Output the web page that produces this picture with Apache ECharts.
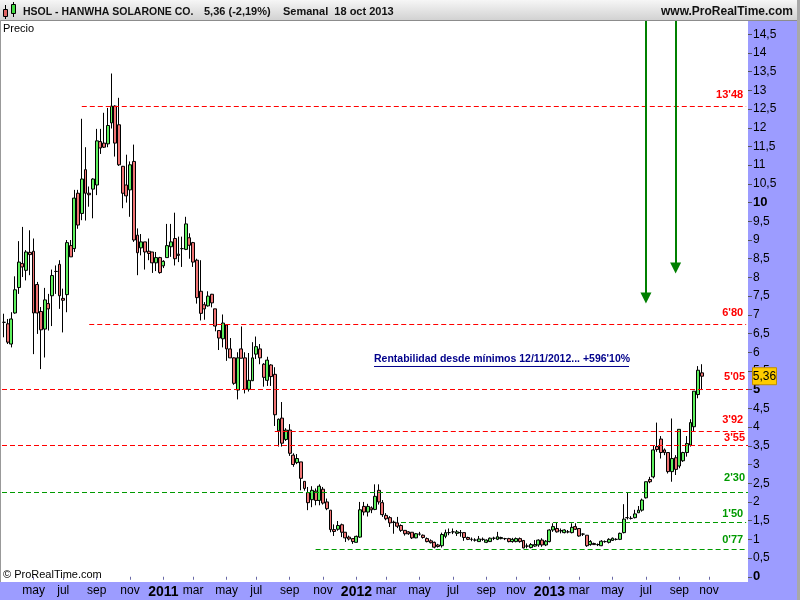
<!DOCTYPE html>
<html><head><meta charset="utf-8">
<script src="https://cdn.jsdelivr.net/npm/echarts@6/dist/echarts.min.js"></script>
<style>html,body{margin:0;padding:0;background:#fff}#c{width:800px;height:600px}</style>
</head><body><div id="c"></div>
<script>
// ---------- DATA ----------
const firstWeek = '2010-03-12';   // weekly candles (Friday dates)
const extraWeeks = 12;            // empty weeks to the right of the last candle
const opens = [6.80,6.76,6.22,7.05,7.73,8.37,8.19,8.67,8.70,7.81,7.09,6.62,7.30,7.51,8.16,8.35,7.44,7.54,8.85,8.77,
10.25,9.71,10.88,10.25,10.36,10.47,11.63,11.59,11.57,12.13,12.58,12.08,10.97,10.47,10.34,11.10,9.13,8.79,8.95,8.70,
8.68,8.39,8.53,8.31,8.53,8.82,9.04,8.62,8.77,8.75,9.06,8.93,8.46,7.63,7.27,7.24,7.55,7.16,6.58,6.36,
6.73,6.09,5.85,4.99,6.09,5.85,5.01,5.24,5.95,6.09,5.68,5.25,5.66,5.41,3.90,4.24,3.67,3.92,3.25,3.05,
3.07,2.55,2.25,2.06,2.29,2.04,2.34,2.00,1.78,1.26,1.27,1.39,1.19,1.06,1.02,0.92,1.06,1.88,1.73,1.84,
1.80,2.31,1.98,1.64,1.58,1.46,1.44,1.37,1.24,1.20,1.19,1.04,1.14,1.11,1.02,0.96,0.92,0.85,0.83,1.08,
1.18,1.20,1.16,1.18,1.18,1.05,1.00,0.98,0.94,1.00,0.92,0.94,1.03,1.00,1.02,1.02,1.02,0.94,0.94,1.02,
0.97,0.82,0.78,0.82,0.85,0.98,0.85,0.94,1.25,1.29,1.23,1.18,1.20,1.18,1.34,1.29,1.14,1.11,0.86,0.89,
0.86,0.83,0.94,0.92,0.97,1.00,1.00,1.18,1.58,1.56,1.58,1.71,1.78,2.11,2.60,2.67,3.48,3.68,3.39,3.32,
2.81,3.18,2.96,3.10,3.32,3.52,4.01,4.87,5.45];
const closes = [6.80,6.27,6.89,7.67,8.41,8.28,8.68,8.61,7.05,7.05,6.60,7.40,7.16,8.05,8.16,7.51,7.39,8.93,8.55,10.12,
9.40,10.63,10.25,10.21,10.63,11.65,11.46,11.48,12.06,12.58,11.59,11.01,10.25,10.18,11.01,9.00,8.66,8.95,8.68,8.64,
8.39,8.53,8.13,8.43,8.85,8.95,8.50,8.59,8.77,9.43,8.86,8.41,7.46,7.04,7.16,7.50,7.32,6.70,6.38,6.78,
6.09,5.85,5.17,5.85,5.84,5.01,5.25,5.85,6.15,5.85,5.33,5.79,5.35,4.33,4.21,3.57,3.92,3.30,3.00,3.16,
2.63,2.36,1.98,2.31,2.04,2.42,1.97,1.82,1.26,1.21,1.37,1.19,1.04,1.01,0.94,1.08,1.79,1.73,1.88,1.79,
2.15,2.00,1.66,1.55,1.44,1.45,1.35,1.24,1.15,1.15,1.04,1.15,1.14,1.05,0.94,0.91,0.79,0.81,1.13,1.18,
1.18,1.20,1.20,1.18,1.05,1.00,1.00,0.98,1.01,1.00,0.98,1.03,1.03,1.07,1.05,1.02,0.94,1.00,1.02,0.94,
0.77,0.82,0.86,0.86,0.98,0.85,0.95,1.25,1.34,1.20,1.23,1.25,1.20,1.32,1.27,1.09,1.14,0.83,0.94,0.86,
0.86,0.95,0.94,1.00,1.03,1.00,1.16,1.54,1.58,1.56,1.68,1.78,2.05,2.54,2.54,3.39,3.40,3.32,3.32,2.81,
3.16,2.87,3.94,3.32,3.56,4.12,4.96,5.52,5.36];
const lows = [6.40,6.22,6.13,7.03,7.56,8.01,7.92,8.06,5.95,6.49,5.55,5.86,6.58,6.70,7.56,7.16,6.53,7.07,8.55,8.68,
9.30,9.53,9.52,9.89,9.58,10.20,11.30,11.46,11.48,11.98,11.23,10.98,9.85,10.00,9.62,8.95,8.06,8.59,8.21,8.46,
8.12,8.17,8.10,8.25,8.53,8.55,8.32,8.41,8.28,8.73,8.50,8.28,7.30,6.85,6.87,7.22,7.20,6.56,6.06,6.13,
5.77,5.85,5.13,4.74,5.84,4.90,4.95,5.23,5.82,5.68,5.08,5.10,5.10,4.03,3.48,3.48,3.63,3.23,2.94,3.01,
2.31,2.30,1.78,1.86,1.91,1.91,1.93,1.78,1.19,1.09,1.23,1.06,0.93,0.97,0.88,0.92,1.04,1.64,1.61,1.70,
1.78,1.93,1.60,1.51,1.33,1.15,1.30,1.20,1.10,1.12,1.01,1.03,1.10,1.02,0.92,0.89,0.76,0.78,0.78,1.03,
1.11,1.14,1.09,1.07,0.96,0.98,0.95,0.94,0.94,0.96,0.90,0.93,0.98,0.98,1.00,0.98,0.92,0.91,0.92,0.91,
0.76,0.76,0.76,0.80,0.80,0.80,0.82,0.92,1.20,1.18,1.16,1.16,1.16,1.16,1.25,1.07,1.09,0.80,0.83,0.85,
0.82,0.82,0.91,0.89,0.96,0.97,0.98,1.16,1.53,1.53,1.56,1.71,1.74,2.09,2.50,2.63,3.34,3.16,3.25,2.76,
2.54,2.72,2.90,3.07,3.21,3.48,3.89,4.77,4.99];
const highs = [7.03,6.89,7.07,8.03,8.97,9.35,8.73,9.26,9.04,7.88,7.21,7.72,7.56,8.21,8.32,8.46,7.70,9.00,9.00,10.34,
10.34,12.24,11.48,10.43,10.65,11.97,11.97,12.40,12.53,13.45,12.60,12.80,10.98,11.28,11.10,11.55,9.31,9.16,8.95,9.04,
8.68,8.68,8.55,8.46,9.43,9.43,9.73,9.09,9.09,9.62,9.18,8.95,8.50,8.46,7.34,7.63,7.56,7.16,6.58,7.01,
6.73,6.38,5.86,6.00,6.69,6.00,5.98,6.27,6.42,6.22,5.71,5.88,5.68,5.60,4.23,4.67,3.97,4.08,3.30,3.28,
3.07,2.55,2.40,2.42,2.36,2.47,2.40,2.09,1.78,1.40,1.49,1.42,1.19,1.10,1.02,1.10,2.00,2.00,1.95,1.88,
2.47,2.47,2.05,1.70,1.62,1.50,1.60,1.40,1.24,1.22,1.19,1.17,1.20,1.13,1.05,1.00,0.94,0.88,1.18,1.26,
1.29,1.29,1.25,1.25,1.18,1.07,1.05,1.03,1.09,1.05,1.00,1.05,1.07,1.20,1.07,1.04,1.04,1.04,1.05,1.05,
0.98,0.89,0.90,0.98,1.00,1.03,0.98,1.27,1.43,1.44,1.29,1.27,1.25,1.43,1.43,1.29,1.16,1.11,0.98,0.91,
0.89,0.98,0.97,1.03,1.05,1.03,1.18,1.94,2.25,1.62,1.79,1.89,2.09,2.54,2.67,3.52,4.12,3.76,3.43,3.32,
4.23,3.25,3.94,3.34,3.76,4.21,4.96,5.63,5.68];
const yTicks = [0,0.5,1,1.5,2,2.5,3,3.5,4,4.5,5,5.5,6,6.5,7,7.5,8,8.5,9,9.5,10,10.5,11,11.5,12,12.5,13,13.5,14,14.5];
const yMin = -0.14, yMax = 14.88;
const levelValues = [12.58, 6.75, 5.02, 3.90, 3.51, 2.26, 1.45, 0.73];
const levelLabels = ["13'48", "6'80", "5'05", "3'92", "3'55", "2'30", "1'50", "0'77"];
const levelStart  = ['2010-08-06', '2010-08-20', null, '2011-08-05', null, null, '2012-03-30', '2011-10-21'];
const levelKind   = ['r','r','r','r','r','g','g','g'];
const arrowDates  = ['2013-07-05', '2013-08-30'];
const arrowTips   = [7.45, 8.25];
const monthNames  = ['ene','feb','mar','abr','may','jun','jul','ago','sep','oct','nov','dic'];
const titleText = 'HSOL - HANWHA SOLARONE CO.';
const changeText = '(-2,19%)';
const periodText = 'Semanal  18 oct 2013';
const noteText = "Rentabilidad desde mínimos 12/11/2012... +596'10%";

// ---------- BUILD ----------
const categories = [];
const t0 = Date.parse(firstWeek + 'T00:00:00Z');
for (let i = 0; i < opens.length + extraWeeks; i++) {
  categories.push(new Date(t0 + i * 7 * 86400000).toISOString().slice(0, 10));
}
const candles = opens.map((o, i) => [o, closes[i], lows[i], highs[i]]);
const lastClose = closes[closes.length - 1];
const fmt = v => String(v).replace('.', ',');

const RED = '#ff0000', GREEN = '#009a00';
const labelLift = [6, 6, 6, 5.5, 1.5, 8.5, 3, 4];
const lastIdx = categories.length - 1;
const levelLines = levelValues.map((v, k) => {
  const col = levelKind[k] === 'r' ? RED : GREEN;
  const first = {
    lineStyle: { color: col, width: 1, type: [5, 3] },
    label: { show: true, formatter: levelLabels[k], color: col, position: 'insideEndTop',
             distance: [3, labelLift[k]], fontSize: 11, fontWeight: 'bold', fontFamily: 'Liberation Sans, Arial' }
  };
  if (levelStart[k] === null) return Object.assign(first, { yAxis: v });
  return [Object.assign(first, { coord: [categories.indexOf(levelStart[k]), v] }), { coord: [lastIdx, v] }];
});
const arrowLines = arrowDates.map((d, k) => [
  { coord: [categories.indexOf(d), yMax], lineStyle: { color: '#008000', width: 2, type: 'solid' }, label: { show: false },
    symbol: 'none' },
  { coord: [categories.indexOf(d), arrowTips[k]], symbol: 'triangle' }
]);

const font = 'Liberation Sans, Arial, sans-serif';
const isLabelWeek = (idx, val) => {
  const m = +val.slice(5, 7), d = +val.slice(8, 10);
  return d <= 7 && m % 2 === 1 && val < '2013-12-01';
};

const chart = echarts.init(document.getElementById('c'), null, { renderer: 'canvas' });
const option = {
  animation: false,
  backgroundColor: '#9c9cff',
  grid: { left: 2, right: 52, top: 20, bottom: 18, show: true, backgroundColor: '#ffffff', borderWidth: 0 },
  xAxis: {
    type: 'category', data: categories, boundaryGap: true,
    axisLine: { show: false },
    axisTick: { show: true, interval: isLabelWeek, alignWithLabel: true, length: 3, lineStyle: { color: '#6a6aa8' } },
    axisLabel: {
      interval: isLabelWeek, margin: 3, color: '#000', fontSize: 12, fontFamily: font,
      formatter: v => { const m = +v.slice(5, 7); return m === 1 ? '{y|' + v.slice(0, 4) + '}' : monthNames[m - 1]; },
      rich: { y: { fontSize: 14, fontWeight: 'bold', color: '#000', fontFamily: font } }
    },
    splitLine: { show: false }
  },
  yAxis: {
    type: 'value', position: 'right', min: yMin, max: yMax, scale: true,
    axisLine: { show: false },
    axisTick: { show: true, length: 4, customValues: yTicks, lineStyle: { color: '#555' } },
    axisLabel: {
      customValues: yTicks, margin: 5, color: '#000', fontSize: 12, fontFamily: font,
      formatter: v => (v % 5 === 0) ? '{b|' + fmt(v) + '}' : fmt(v),
      rich: { b: { fontWeight: 'bold', fontSize: 13, color: '#000', fontFamily: font } }
    },
    splitLine: { show: false }
  },
  series: [{
    type: 'candlestick', data: candles, barWidth: 3.4, large: false,
    itemStyle: { color: '#5ef05e', color0: '#f07474', borderColor: '#000', borderColor0: '#000', borderWidth: 1 },
    markLine: {
      silent: true, symbol: 'none', animation: false,
      data: levelLines.concat(arrowLines),
      symbolSize: 11
    }
  }]
};
chart.setOption(option);

const yLast = chart.convertToPixel({ yAxisIndex: 0 }, lastClose);
const yNote = chart.convertToPixel({ yAxisIndex: 0 }, 5.82);
chart.setOption({
  graphic: [
    { type: 'rect', z: 100, shape: { x: 0, y: 0, width: 800, height: 20 },
      style: { fill: new echarts.graphic.LinearGradient(0, 0, 0, 1, [{ offset: 0, color: '#f6f6f6' }, { offset: 1, color: '#d2d2d2' }]) } },
    { type: 'line', z: 101, shape: { x1: 0, y1: 20.5, x2: 800, y2: 20.5 }, style: { stroke: '#8c8c8c', lineWidth: 1 } },
    { type: 'rect', z: 100, shape: { x: 0, y: 20, width: 2, height: 562 }, style: { fill: '#fff' } },
    { type: 'line', z: 101, shape: { x1: 0.5, y1: 20, x2: 0.5, y2: 582 }, style: { stroke: '#999', lineWidth: 1 } },
    { type: 'line', z: 101, shape: { x1: 798.5, y1: 0, x2: 798.5, y2: 600 }, style: { stroke: '#a8a8a8', lineWidth: 3 } },
    // header icon
    { type: 'line', z: 102, shape: { x1: 5.5, y1: 5, x2: 5.5, y2: 19 }, style: { stroke: '#000', lineWidth: 1 } },
    { type: 'rect', z: 103, shape: { x: 3.5, y: 9.5, width: 4, height: 7 }, style: { fill: '#e06464', stroke: '#000', lineWidth: 1 } },
    { type: 'line', z: 102, shape: { x1: 13.5, y1: 2, x2: 13.5, y2: 17 }, style: { stroke: '#000', lineWidth: 1 } },
    { type: 'rect', z: 103, shape: { x: 11.5, y: 4.5, width: 4, height: 9 }, style: { fill: '#44dd44', stroke: '#000', lineWidth: 1 } },
    { type: 'text', z: 104, x: 23, y: 12, style: { text: titleText, font: 'bold 10.5px ' + font, fill: '#111', verticalAlign: 'middle' } },
    { type: 'text', z: 104, x: 204, y: 12, style: { text: fmt(lastClose) + ' ' + changeText, font: 'bold 11px ' + font, fill: '#111', verticalAlign: 'middle' } },
    { type: 'text', z: 104, x: 283, y: 12, style: { text: periodText, font: 'bold 11px ' + font, fill: '#111', verticalAlign: 'middle' } },
    { type: 'text', z: 104, x: 793, y: 12, style: { text: 'www.ProRealTime.com', font: 'bold 12px ' + font, fill: '#111', align: 'right', verticalAlign: 'middle' } },
    { type: 'text', z: 104, x: 3, y: 29, style: { text: 'Precio', font: '11px ' + font, fill: '#000', verticalAlign: 'middle' } },
    { type: 'text', z: 104, x: 3, y: 575, style: { text: '© ProRealTime.com', font: '11px ' + font, fill: '#000', verticalAlign: 'middle' } },
    // note
    { type: 'text', z: 104, x: 374, y: yNote, style: { text: noteText, font: 'bold 10.5px ' + font, fill: '#00008b', verticalAlign: 'middle' } },
    { type: 'line', z: 104, shape: { x1: 374, y1: yNote + 7.5, x2: 629, y2: yNote + 7.5 }, style: { stroke: '#00008b', lineWidth: 1 } },
    // last price tag
    { type: 'rect', z: 110, shape: { x: 752.5, y: yLast - 8.5, width: 24, height: 17 }, style: { fill: '#ffcc00', stroke: '#c09000', lineWidth: 1 } },
    { type: 'text', z: 111, x: 764.5, y: yLast, style: { text: fmt(lastClose), font: '12px ' + font, fill: '#000', align: 'center', verticalAlign: 'middle' } }
  ]
});
</script></body></html>
